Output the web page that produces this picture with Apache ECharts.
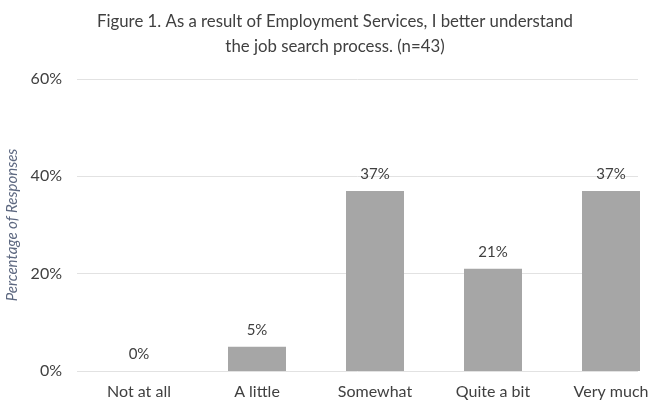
<!DOCTYPE html>
<html>
<head>
<meta charset="utf-8">
<script src="https://cdn.jsdelivr.net/npm/echarts@6/dist/echarts.min.js"></script>
<style>
  html, body { margin: 0; padding: 0; background: #fff; }
  #chart { width: 670px; height: 407px; }
</style>
</head>
<body>
<div id="chart"></div>
<script>
// Survey responses, percent of respondents (n=43)
const categories = ['Not at all', 'A little', 'Somewhat', 'Quite a bit', 'Very much'];
const percentages = [0, 5, 37, 21, 37];
const yTicks = { min: 0, max: 60, interval: 20 };
const titleText = 'Figure 1. As a result of Employment Services, I better understand\nthe job search process. (n=43)';
const yAxisTitle = 'Percentage of Responses';

const FONT = 'Lato, "Open Sans", sans-serif';
const TEXT = '#404040';

const chart = echarts.init(document.getElementById('chart'), null, { renderer: 'canvas' });

chart.setOption({
  backgroundColor: '#ffffff',
  animation: false,
  title: {
    text: titleText,
    left: 'center',
    top: 4,
    textStyle: { fontFamily: FONT, fontSize: 16.8, fontWeight: 'normal', color: TEXT, lineHeight: 25 }
  },
  grid: [
    // gridlines and value labels
    { left: 77, right: 32, top: 79, bottom: 36, containLabel: false, outerBoundsMode: 'none' },
    // bars and category labels
    { left: 80, right: 0, top: 79, bottom: 36, containLabel: false, outerBoundsMode: 'none' }
  ],
  xAxis: [
    { gridIndex: 0, type: 'category', data: categories, show: false },
    {
      gridIndex: 1, type: 'category', data: categories,
      axisLine: { show: false }, axisTick: { show: false },
      axisLabel: { fontFamily: FONT, fontSize: 16, color: TEXT, margin: 13 }
    }
  ],
  yAxis: [
    {
      gridIndex: 0, type: 'value',
      min: yTicks.min, max: yTicks.max, interval: yTicks.interval,
      axisLine: { show: false }, axisTick: { show: false },
      axisLabel: { formatter: '{value}%', fontFamily: FONT, fontSize: 16, color: TEXT, margin: 15 },
      splitLine: { lineStyle: { color: '#e2e2e2', width: 1 } },
      name: yAxisTitle,
      nameLocation: 'middle',
      nameRotate: 90,
      nameGap: 52,
      nameTextStyle: { fontFamily: FONT, fontSize: 15, fontStyle: 'italic', color: '#5d6880' }
    },
    {
      gridIndex: 1, type: 'value',
      min: yTicks.min, max: yTicks.max, interval: yTicks.interval,
      show: false, splitLine: { show: false }
    }
  ],
  series: [{
    type: 'bar',
    xAxisIndex: 1,
    yAxisIndex: 1,
    data: percentages,
    barWidth: 58,
    itemStyle: { color: '#a6a6a6' },
    label: {
      show: true,
      position: 'top',
      distance: 9,
      formatter: '{c}%',
      fontFamily: FONT,
      fontSize: 15,
      color: TEXT
    }
  }]
});
</script>
</body>
</html>
